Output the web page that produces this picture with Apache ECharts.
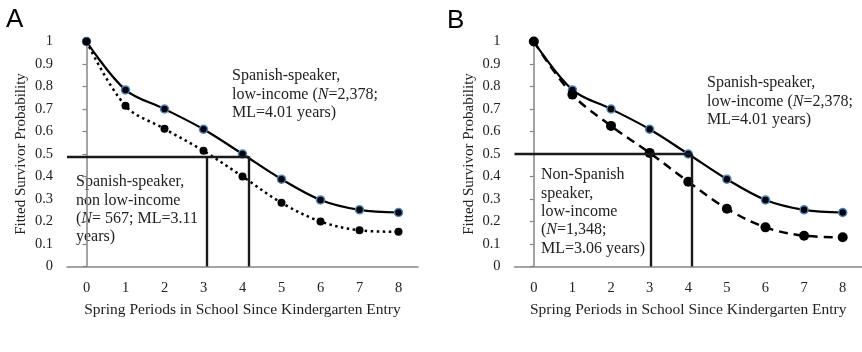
<!DOCTYPE html>
<html>
<head>
<meta charset="utf-8">
<script src="https://cdn.jsdelivr.net/npm/echarts@6/dist/echarts.min.js"></script>
<style>
  html, body { margin: 0; padding: 0; background: #fff; }
  #chart { width: 862px; height: 352px; }
</style>
</head>
<body>
<div id="chart"></div>
<script>
// spring periods since kindergarten entry
const periods = [0, 1, 2, 3, 4, 5, 6, 7, 8]
// fitted survivor probabilities
const spanishLowIncome = [1, 0.785, 0.70, 0.61, 0.50, 0.388, 0.296, 0.252, 0.24]
const spanishNonLowIncome = [1, 0.714, 0.612, 0.514, 0.40, 0.283, 0.20, 0.161, 0.154]
const nonSpanishLowIncome = [1, 0.764, 0.625, 0.505, 0.377, 0.257, 0.174, 0.137, 0.13]
// median lifetime guides: [level, lower x, upper x]
const medianA = [0.49, 3.09, 4.16]
const medianB = [0.50, 3.03, 4.09]

const serif = 'Liberation Serif'
const axisGray = '#868686'

let chart = echarts.init(document.getElementById('chart'))

function pairs (vals) {
  return periods.map((p, i) => [p, vals[i]])
}

function guides (m) {
  return [
    [{ coord: [-0.5, m[0]] }, { coord: [m[2], m[0]] }],
    [{ coord: [m[1], m[0]] }, { coord: [m[1], 0] }],
    [{ coord: [m[2], m[0]] }, { coord: [m[2], 0] }]
  ]
}

function xAxes (g) {
  return [
    {
      type: 'category',
      gridIndex: g,
      data: periods,
      boundaryGap: true,
      axisLine: { lineStyle: { color: axisGray, width: 1.5 } },
      axisTick: { length: 5, lineStyle: { color: axisGray, width: 1.2 } },
      axisLabel: { interval: 0, margin: 14, fontFamily: serif, fontSize: 14.5, color: '#222' },
      name: 'Spring Periods in School Since Kindergarten Entry',
      nameLocation: 'middle',
      nameGap: 35,
      nameTextStyle: { fontFamily: serif, fontSize: 15.5, color: '#222' }
    },
    {
      // minor ticks at the category centres, pointing inward
      type: 'category',
      gridIndex: g,
      data: periods,
      boundaryGap: true,
      axisLine: { show: false },
      axisTick: { alignWithLabel: true, inside: true, length: 4, lineStyle: { color: axisGray, width: 1.2 } },
      axisLabel: { show: false }
    },
    { type: 'value', gridIndex: g, min: -0.5, max: 8.5, show: false }
  ]
}

function yAxis (g) {
  return {
    type: 'value',
    gridIndex: g,
    min: 0,
    max: 1,
    interval: 0.1,
    splitLine: { show: false },
    axisLine: { show: true, lineStyle: { color: axisGray, width: 1.5 } },
    axisTick: { show: true, length: 4, lineStyle: { color: axisGray, width: 1.2 } },
    axisLabel: { margin: 14, fontFamily: serif, fontSize: 14.5, color: '#222' },
    name: 'Fitted Survivor Probability',
    nameLocation: 'middle',
    nameGap: 38,
    nameTextStyle: { fontFamily: serif, fontSize: 15, color: '#222' }
  }
}

function solidSeries (g, m) {
  return {
    type: 'line',
    xAxisIndex: g * 3 + 2,
    yAxisIndex: g,
    data: pairs(spanishLowIncome),
    smooth: 0.35,
    symbol: 'circle',
    symbolSize: 8,
    itemStyle: { color: '#000', borderColor: '#4a86c8', borderWidth: 1.5 },
    lineStyle: { color: '#000', width: 2.2 },
    markLine: {
      silent: true,
      symbol: 'none',
      label: { show: false },
      lineStyle: { color: '#1a1a1a', width: 2.4, type: 'solid' },
      data: guides(m)
    },
    z: 3
  }
}

function note (left, top, text) {
  return {
    type: 'text',
    left: left,
    top: top,
    style: {
      text: text,
      fontFamily: serif,
      fontSize: 16,
      lineHeight: 18.3,
      fill: '#222',
      rich: { i: { fontFamily: serif, fontSize: 16, fontStyle: 'italic', fill: '#222' } }
    }
  }
}

chart.setOption({
  backgroundColor: '#fff',
  animation: false,
  grid: [
    { left: 67, top: 41.5, width: 351, height: 225 },
    { left: 514.5, top: 41.5, width: 351, height: 225 }
  ],
  xAxis: xAxes(0).concat(xAxes(1)),
  yAxis: [yAxis(0), yAxis(1)],
  series: [
    solidSeries(0, medianA),
    {
      type: 'line',
      xAxisIndex: 2,
      yAxisIndex: 0,
      data: pairs(spanishNonLowIncome),
      smooth: 0.35,
      symbol: 'circle',
      symbolSize: 8,
      itemStyle: { color: '#000' },
      lineStyle: { color: '#000', width: 2.5, type: [2.5, 3.5] },
      z: 4
    },
    solidSeries(1, medianB),
    {
      type: 'line',
      xAxisIndex: 5,
      yAxisIndex: 1,
      data: pairs(nonSpanishLowIncome),
      smooth: 0.35,
      symbol: 'circle',
      symbolSize: 10,
      itemStyle: { color: '#000' },
      lineStyle: { color: '#000', width: 2.5, type: [9, 6] },
      z: 4
    }
  ],
  graphic: [
    { type: 'text', left: 6, top: 7, style: { text: 'A', fontFamily: 'Liberation Sans', fontSize: 26, fill: '#000' } },
    { type: 'text', left: 447, top: 8, style: { text: 'B', fontFamily: 'Liberation Sans', fontSize: 26, fill: '#000' } },
    note(232, 67, 'Spanish-speaker,\nlow-income ({i|N}=2,378;\nML=4.01 years)'),
    note(76, 173, 'Spanish-speaker,\nnon low-income\n({i|N}= 567; ML=3.11\nyears)'),
    note(707, 74, 'Spanish-speaker,\nlow-income ({i|N}=2,378;\nML=4.01 years)'),
    note(541, 166, 'Non-Spanish\nspeaker,\nlow-income\n({i|N}=1,348;\nML=3.06 years)')
  ]
})
</script>
</body>
</html>
